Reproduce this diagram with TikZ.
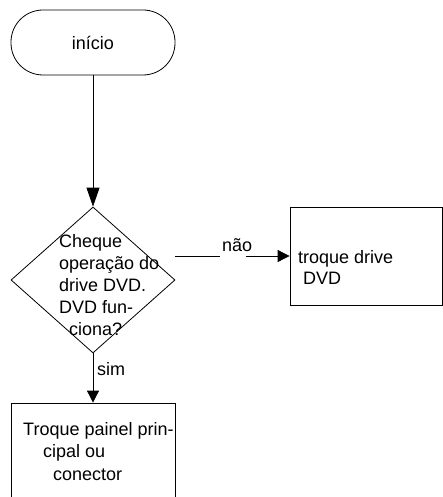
\documentclass[tikz,border=0pt]{standalone}
\usepackage{fontspec}
\setmainfont{Liberation Sans}
\usetikzlibrary{shapes.geometric,arrows.meta}
\tikzset{
  txt/.style={inner sep=0pt, anchor=base west, font=\fontsize{18pt}{22pt}\selectfont},
  shp/.style={draw=black, line width=0.8pt, inner sep=0pt},
  conn/.style={draw=black, line width=0.8pt},
  arrbig/.style={conn, -{Triangle[length=19pt,width=13pt]}},
  arrsmall/.style={conn, -{Triangle[length=12pt,width=12pt]}},
}
\begin{document}
\begin{tikzpicture}[x=1pt,y=-1pt]
\clip (0,0) rectangle (443,497);
\fill[white] (0,0) rectangle (443,497);
% shapes
\node[shp, rectangle, rounded corners=32pt, minimum width=164pt, minimum height=65pt] (start) at (93,42.5) {};
\node[shp, diamond, minimum width=164pt, minimum height=146pt, aspect=1.12] (dec) at (93,280) {};
\node[shp, rectangle, minimum width=152pt, minimum height=98pt] (box2) at (366,256) {};
\node[shp, rectangle, minimum width=164pt, minimum height=117pt] (box3) at (93,461.5) {};
% texts
\node[txt, anchor=center] (tstart) at (93,42.5) {início};
\node[txt] (d1) at (59,247) {Cheque};
\node[txt] (d2) at (59,269) {operação do};
\node[txt] (d3) at (59,291) {drive DVD.};
\node[txt] (d4) at (59,313) {DVD fun-};
\node[txt] (d5) at (69,335) {ciona?};
\node[txt] (b21) at (298,263) {troque drive};
\node[txt] (b22) at (303,284) {DVD};
\node[txt] (b31) at (23,435) {Troque painel prin-};
\node[txt] (b32) at (43,457) {cipal ou};
\node[txt] (b33) at (53,480) {conector};
\node[txt] (lnao) at (222,251) {não};
\node[txt] (lsim) at (97,375) {sim};
% connectors
\coordinate (n1) at (175,256);
\coordinate (n2) at (220,256);
\coordinate (n3) at (246,256);
\draw[arrbig] (start.south) -- (dec.north);
\draw[conn] (n1) -- (n2);
\draw[arrsmall] (n3) -- (box2.west);
\draw[arrsmall] (dec.south) -- (box3.north);
\end{tikzpicture}
\end{document}
